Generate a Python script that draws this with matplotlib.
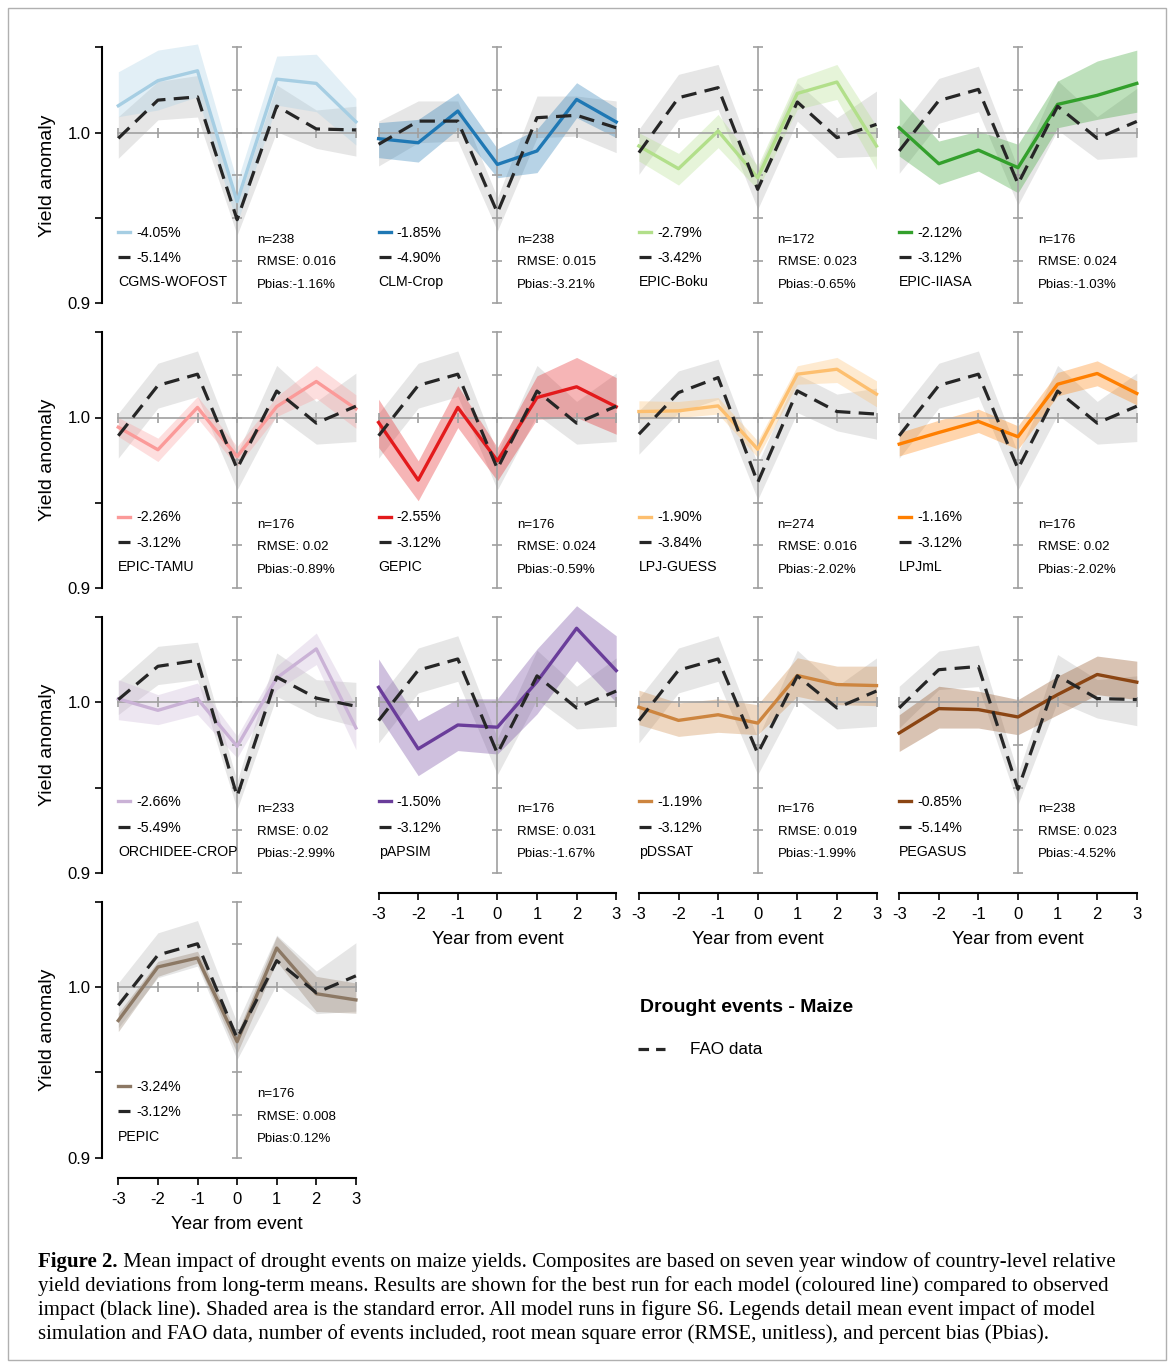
import numpy as np
import matplotlib.pyplot as plt
from matplotlib.lines import Line2D
from matplotlib.patches import Rectangle

plt.rcParams['font.family'] = ['Liberation Sans', 'DejaVu Sans']

# ---------------- data ----------------
years = [-3, -2, -1, 0, 1, 2, 3]

models = ['CGMS-WOFOST', 'CLM-Crop', 'EPIC-Boku', 'EPIC-IIASA',
          'EPIC-TAMU', 'GEPIC', 'LPJ-GUESS', 'LPJmL',
          'ORCHIDEE-CROP', 'pAPSIM', 'pDSSAT', 'PEGASUS', 'PEPIC']
model_pct = ['-4.05%', '-1.85%', '-2.79%', '-2.12%', '-2.26%', '-2.55%', '-1.90%',
             '-1.16%', '-2.66%', '-1.50%', '-1.19%', '-0.85%', '-3.24%']
fao_pct = ['-5.14%', '-4.90%', '-3.42%', '-3.12%', '-3.12%', '-3.12%', '-3.84%',
           '-3.12%', '-5.49%', '-3.12%', '-3.12%', '-5.14%', '-3.12%']
n_events = [238, 238, 172, 176, 176, 176, 274, 176, 233, 176, 176, 238, 176]
rmse = ['0.016', '0.015', '0.023', '0.024', '0.02', '0.024', '0.016',
        '0.02', '0.02', '0.031', '0.019', '0.023', '0.008']
pbias = ['-1.16%', '-3.21%', '-0.65%', '-1.03%', '-0.89%', '-0.59%', '-2.02%',
         '-2.02%', '-2.99%', '-1.67%', '-1.99%', '-4.52%', '0.12%']

# model composites (mean, lower and upper edge of standard error)
model_mean = [
    [1.0158, 1.0305, 1.0363, 0.9596, 1.0314, 1.0289, 1.0064],
    [0.9965, 0.9941, 1.0127, 0.9814, 0.9893, 1.0195, 1.0063],
    [0.9922, 0.9789, 1.0010, 0.9736, 1.0230, 1.0297, 0.9922],
    [1.0029, 0.9818, 0.9898, 0.9795, 1.0166, 1.0219, 1.0289],
    [0.9943, 0.9811, 1.0059, 0.9771, 1.0064, 1.0211, 1.0051],
    [0.9971, 0.9633, 1.0059, 0.9746, 1.0117, 1.0180, 1.0063],
    [1.0035, 1.0039, 1.0068, 0.9814, 1.0254, 1.0283, 1.0137],
    [0.9844, 0.9912, 0.9977, 0.9887, 1.0195, 1.0258, 1.0141],
    [1.0020, 0.9953, 1.0021, 0.9742, 1.0143, 1.0313, 0.9850],
    [1.0088, 0.9727, 0.9867, 0.9854, 1.0121, 1.0434, 1.0186],
    [0.9971, 0.9894, 0.9927, 0.9878, 1.0157, 1.0104, 1.0098],
    [0.9820, 0.9963, 0.9957, 0.9914, 1.0045, 1.0163, 1.0118],
    [0.9804, 1.0118, 1.0171, 0.9680, 1.0229, 0.9961, 0.9925],
]
model_lo = [
    [1.0094, 1.0133, 1.0211, 0.9469, 1.0162, 1.0123, 0.9928],
    [0.9854, 0.9828, 1.0020, 0.9736, 0.9766, 1.0088, 0.9971],
    [0.9834, 0.9693, 0.9912, 0.9668, 1.0137, 1.0195, 0.9785],
    [0.9863, 0.9697, 0.9775, 0.9648, 1.0029, 1.0078, 1.0120],
    [0.9889, 0.9742, 0.9996, 0.9713, 1.0006, 1.0113, 0.9937],
    [0.9824, 0.9512, 0.9941, 0.9629, 0.9990, 1.0000, 0.9902],
    [0.9990, 1.0000, 1.0020, 0.9766, 1.0195, 1.0205, 1.0063],
    [0.9775, 0.9844, 0.9912, 0.9814, 1.0127, 1.0186, 1.0074],
    [0.9898, 0.9869, 0.9928, 0.9674, 1.0074, 1.0221, 0.9723],
    [0.9922, 0.9570, 0.9717, 0.9697, 0.9932, 1.0244, 1.0000],
    [0.9869, 0.9800, 0.9824, 0.9810, 1.0035, 0.9986, 0.9980],
    [0.9712, 0.9849, 0.9849, 0.9810, 0.9927, 1.0045, 1.0016],
    [0.9739, 1.0063, 1.0141, 0.9612, 1.0151, 0.9857, 0.9847],
]
model_hi = [
    [1.0357, 1.0484, 1.0520, 0.9713, 1.0449, 1.0460, 1.0201],
    [1.0059, 1.0078, 1.0234, 0.9906, 1.0020, 1.0293, 1.0146],
    [1.0000, 0.9879, 1.0107, 0.9805, 1.0318, 1.0400, 1.0039],
    [1.0205, 0.9951, 1.0010, 0.9932, 1.0303, 1.0420, 1.0484],
    [1.0000, 0.9879, 1.0123, 0.9830, 1.0123, 1.0305, 1.0133],
    [1.0107, 0.9746, 1.0186, 0.9824, 1.0244, 1.0352, 1.0234],
    [1.0098, 1.0094, 1.0117, 0.9863, 1.0303, 1.0352, 1.0215],
    [0.9912, 0.9984, 1.0049, 0.9951, 1.0264, 1.0332, 1.0215],
    [1.0133, 1.0045, 1.0113, 0.9801, 1.0211, 1.0406, 0.9977],
    [1.0254, 0.9893, 1.0020, 1.0020, 1.0313, 1.0566, 1.0390],
    [1.0071, 0.9996, 1.0020, 0.9986, 1.0261, 1.0212, 1.0212],
    [0.9927, 1.0094, 1.0065, 1.0016, 1.0153, 1.0271, 1.0241],
    [0.9847, 1.0151, 1.0210, 0.9729, 1.0298, 1.0063, 1.0024],
]

# FAO composites, one per event set
fao_514 = [0.9967, 1.0191, 1.0210, 0.9490, 1.0156, 1.0022, 1.0016]
fao_514_lo = [0.9850, 1.0075, 1.0092, 0.9400, 1.0006, 0.9908, 0.9863]
fao_514_hi = [1.0094, 1.0300, 1.0335, 0.9583, 1.0280, 1.0133, 1.0155]
fao_490 = [0.9932, 1.0068, 1.0068, 0.9531, 1.0088, 1.0102, 1.0029]
fao_490_lo = [0.9805, 0.9941, 0.9951, 0.9424, 0.9971, 0.9980, 0.9883]
fao_490_hi = [1.0068, 1.0186, 1.0186, 0.9619, 1.0215, 1.0215, 1.0186]
fao_342 = [0.9883, 1.0205, 1.0264, 0.9668, 1.0180, 0.9971, 1.0049]
fao_342_lo = [0.9756, 1.0078, 1.0137, 0.9551, 1.0068, 0.9854, 0.9863]
fao_342_hi = [1.0020, 1.0342, 1.0400, 0.9785, 1.0293, 1.0088, 1.0244]
fao_312 = [0.9893, 1.0188, 1.0254, 0.9700, 1.0155, 0.9967, 1.0066]
fao_312_lo = [0.9762, 1.0055, 1.0123, 0.9576, 1.0016, 0.9844, 0.9859]
fao_312_hi = [1.0025, 1.0318, 1.0390, 0.9790, 1.0305, 1.0094, 1.0260]
fao_384 = [0.9902, 1.0146, 1.0234, 0.9619, 1.0156, 1.0035, 1.0020]
fao_384_lo = [0.9785, 1.0029, 1.0107, 0.9518, 1.0029, 0.9922, 0.9873]
fao_384_hi = [1.0039, 1.0273, 1.0342, 0.9727, 1.0254, 1.0137, 1.0172]
fao_549 = [1.0016, 1.0211, 1.0246, 0.9449, 1.0148, 1.0025, 0.9977]
fao_549_lo = [0.9928, 1.0104, 1.0133, 0.9371, 1.0035, 0.9918, 0.9859]
fao_549_hi = [1.0123, 1.0328, 1.0352, 0.9537, 1.0289, 1.0133, 1.0117]

fao = {
    '-5.14%': (fao_514, fao_514_lo, fao_514_hi),
    '-4.90%': (fao_490, fao_490_lo, fao_490_hi),
    '-3.42%': (fao_342, fao_342_lo, fao_342_hi),
    '-3.12%': (fao_312, fao_312_lo, fao_312_hi),
    '-3.84%': (fao_384, fao_384_lo, fao_384_hi),
    '-5.49%': (fao_549, fao_549_lo, fao_549_hi),
}

colors = ['#a6cee3', '#1f78b4', '#b2df8a', '#33a02c', '#fb9a99', '#e31a1c', '#fdbf6f',
          '#ff7f00', '#cab2d6', '#6a3d9a', '#cd853f', '#8b4513', '#8c7864']

caption = [
    ' Mean impact of drought events on maize yields. Composites are based on seven year window of country-level relative',
    'yield deviations from long-term means. Results are shown for the best run for each model (coloured line) compared to observed',
    'impact (black line). Shaded area is the standard error. All model runs in figure S6. Legends detail mean event impact of model',
    'simulation and FAO data, number of events included, root mean square error (RMSE, unitless), and percent bias (Pbias).',
]

# ---------------- layout (pixels) ----------------
W, H = 1170, 1366
XU, YU = 39.6, 1706.0          # pixels per year, pixels per unit of anomaly
XMIN, XMAX = -3.5, 3.1
YMIN, YMAX = 0.875, 1.06
AW, AH = (XMAX - XMIN) * XU, (YMAX - YMIN) * YU
FAO_COL = '#262626'
AX_GREY = '#a0a0a0'
DASH = (0, (4.8, 2.6))

fig = plt.figure(figsize=(W / 100, H / 100), dpi=100)

for i, name in enumerate(models):
    r, c = divmod(i, 4)
    x0 = 118.3 + 260.3 * c      # pixel of year -3
    y1 = 132.7 + 284.8 * r      # pixel of anomaly 1.0
    left = x0 - (-3 - XMIN) * XU
    top = y1 - (YMAX - 1.0) * YU
    ax = fig.add_axes([left / W, 1 - (top + AH) / H, AW / W, AH / H])
    ax.set_xlim(XMIN, XMAX)
    ax.set_ylim(YMIN, YMAX)
    ax.patch.set_visible(False)

    fm, flo, fhi = fao[fao_pct[i]]
    ax.fill_between(years, flo, fhi, color='#bebebe', alpha=0.38, lw=0)
    ax.fill_between(years, model_lo[i], model_hi[i], color=colors[i], alpha=0.32, lw=0)

    # grey axes through year 0 and anomaly 1.0
    ax.plot(years, np.ones(len(years)), color=AX_GREY, lw=1.2, marker='|', ms=6.5, mew=1.2)
    yt = np.arange(0.9, 1.0501, 0.025)
    ax.plot(np.zeros(len(yt)), yt, color=AX_GREY, lw=1.2, marker='_', ms=6.5, mew=1.2)

    lm, = ax.plot(years, model_mean[i], color=colors[i], lw=2.4)
    lf, = ax.plot(years, fm, color=FAO_COL, lw=2.3, ls=DASH)

    for s in ax.spines.values():
        s.set_visible(False)
    ax.tick_params(length=5, width=1.2, color='black', labelsize=12, pad=3)

    if c == 0:
        sp = ax.spines['left']
        sp.set_visible(True)
        sp.set_position(('data', -3.42))
        sp.set_bounds(0.9, 1.05)
        sp.set_linewidth(1.5)
        ax.set_yticks([0.9, 0.95, 1.0, 1.05], ['0.9', '', '1.0', ''])
        ax.text(-4.8, 0.975, 'Yield anomaly', rotation=90, ha='center', va='center', fontsize=14)
    else:
        ax.set_yticks([])

    if i >= 9:
        sp = ax.spines['bottom']
        sp.set_visible(True)
        sp.set_position(('data', 0.888))
        sp.set_bounds(-3, 3)
        sp.set_linewidth(1.5)
        ax.set_xticks(years, [str(y) for y in years])
        ax.tick_params(axis='x', pad=5)
        ax.text(0, 0.861, 'Year from event', ha='center', va='center', fontsize=13.5)
    else:
        ax.set_xticks([])

    ax.legend([lm, lf], [model_pct[i], fao_pct[i]], loc='upper left',
              bbox_to_anchor=(-3, 0.9455), bbox_transform=ax.transData,
              frameon=False, fontsize=10.2, handlelength=0.85, handletextpad=0.42,
              labelspacing=0.8, borderpad=0, borderaxespad=0)
    ax.text(-3, 0.9122, name, ha='left', va='center', fontsize=10.2)
    stats = ['n=%d' % n_events[i], 'RMSE: ' + rmse[i], 'Pbias:' + pbias[i]]
    for k, s in enumerate(stats):
        ax.text(0.5, 0.9372 - k * 0.0132, s, ha='left', va='center', fontsize=9.5)

# overall title and FAO legend
fig.text(640 / W, 1 - 1007 / H, 'Drought events - Maize', fontsize=14, fontweight='bold',
         ha='left', va='center')
fig.legend([Line2D([], [], color=FAO_COL, lw=2.3, ls=(0, (3.3, 2.2)))], ['FAO data'],
           loc='center left', bbox_to_anchor=(638 / W, 1 - 1050 / H),
           frameon=False, fontsize=12.3, handlelength=1.6, handletextpad=1.45,
           borderpad=0, borderaxespad=0)

# caption
serif = ['Liberation Serif', 'DejaVu Serif']
renderer = fig.canvas.get_renderer()
t = fig.text(38 / W, 1 - 1262 / H, 'Figure 2.', fontsize=15, fontweight='bold',
             family=serif, ha='left', va='center')
bb = t.get_window_extent(renderer)
fig.text(bb.x1 / W, 1 - 1262 / H, caption[0], fontsize=15, family=serif, ha='left', va='center')
for k, line in enumerate(caption[1:]):
    fig.text(38 / W, 1 - (1286 + 24 * k) / H, line, fontsize=15, family=serif,
             ha='left', va='center')

fig.patches.append(Rectangle((8 / W, 1 - 1360 / H), 1158 / W, 1352 / H,
                             transform=fig.transFigure, fill=False,
                             edgecolor='#b0b0b0', lw=1))

fig.savefig('out.png', dpi=100)
